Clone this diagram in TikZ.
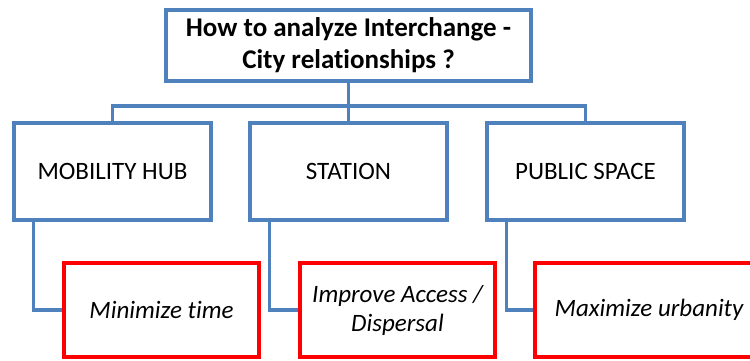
\documentclass[tikz,border=0pt]{standalone}
\usepackage{fontspec}
\setmainfont{Carlito}[Ligatures=NoCommon]
\usetikzlibrary{positioning}
\definecolor{boxblue}{RGB}{79,129,189}
\definecolor{goalred}{RGB}{255,0,0}

\begin{document}
\begin{tikzpicture}[x=1pt, y=-1pt,
    topic/.style={draw=boxblue, line width=3.5pt, minimum width=197pt,
        minimum height=97pt, font=\fontsize{25}{30}\selectfont},
    goal/.style={draw=goalred, line width=4.2pt, minimum width=195pt,
        minimum height=94pt, align=center,
        font=\fontsize{25}{29}\selectfont\itshape},
    link/.style={boxblue, line width=3.5pt}]

    \clip (0,0) rectangle (750,360);

    % ---------------- Question ----------------
    \node[draw=boxblue, line width=3.5pt, minimum width=365pt, minimum height=71pt,
        align=center, font=\fontsize{27}{32}\selectfont\bfseries]
        (question) at (348.5,45.5) {How to analyze Interchange -\\City relationships ?};

    % ---------------- Topics ----------------
    \node[topic] (hub) at (112.5,171.5) {MOBILITY HUB};
    \node[topic, right=35.5pt of hub] (station) {STATION};
    \node[topic, right=36.5pt of station] (public) {PUBLIC SPACE};

    % ---------------- Goals ----------------
    \node[goal] (time) at (161.5,310) {Minimize time};
    \node[goal] (access) at (397.5,310) {Improve Access /\\Dispersal};
    \node[goal, minimum width=228pt] (urban) at (649,310) {Maximize urbanity};

    % ---------------- Tree links ----------------
    \draw[link] (question.south) -- ++(0,23) coordinate (bus);
    \draw[link] (hub.north) |- (bus) -| (public.north);
    \draw[link] (station.north) -- (station.north |- bus);

    \draw[link] ([xshift=21pt]hub.south west) |- (time.west);
    \draw[link] ([xshift=21pt]station.south west) |- (access.west);
    \draw[link] ([xshift=21pt]public.south west) |- (urban.west);

\end{tikzpicture}
\end{document}
